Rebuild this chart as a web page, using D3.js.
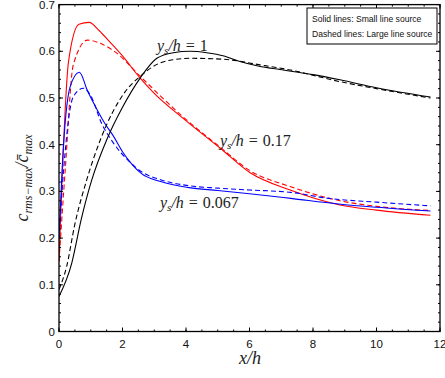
<!DOCTYPE html>
<html>
<head>
<meta charset="utf-8">
<script src="https://cdn.jsdelivr.net/npm/d3@7/dist/d3.min.js"></script>
<style>
  body { margin: 0; background: #fff; }
  text { font-family: "Liberation Sans", Arial, sans-serif; }
  .math { font-family: "Liberation Serif", "DejaVu Serif", serif; font-style: italic; fill: #222; }
</style>
</head>
<body>
<svg id="chart" width="445" height="378"></svg>
<script>
// data
var xTicks = [0, 2, 4, 6, 8, 10, 12];
var yTicks = [0, 0.1, 0.2, 0.3, 0.4, 0.5, 0.6, 0.7];
var legendLines = ["Solid lines: Small line source", "Dashed lines: Large line source"];

// y_s/h = 0.17 (red)
var redSmallX = [0, 0.3, 0.63, 0.95, 1.27, 1.6, 2.0, 2.55, 3.0, 3.9, 5.07, 6.02, 7.28, 8.85, 10, 11.7];
var redSmallY = [0.15, 0.578, 0.658, 0.662, 0.644, 0.62, 0.59, 0.543, 0.51, 0.457, 0.393, 0.34, 0.303, 0.271, 0.26, 0.249];
var redLargeX = [0, 0.2, 0.45, 0.9, 1.3, 1.82, 2.55, 3.9, 5.07, 6.0, 7.3, 8.85, 10, 11.7];
var redLargeY = [0.15, 0.35, 0.571, 0.624, 0.617, 0.596, 0.547, 0.46, 0.395, 0.345, 0.31, 0.28, 0.268, 0.259];

// y_s/h = 0.067 (blue)
var blueSmallX = [0, 0.1, 0.35, 0.64, 0.9, 1.2, 1.45, 1.7, 2.0, 2.3, 2.6, 3.2, 4.1, 5, 6, 7.3, 8.8, 10, 11.7];
var blueSmallY = [0.2, 0.35, 0.524, 0.555, 0.515, 0.475, 0.445, 0.42, 0.385, 0.358, 0.338, 0.321, 0.308, 0.302, 0.295, 0.285, 0.273, 0.266, 0.258];
var blueLargeX = [0, 0.15, 0.45, 0.77, 1.0, 1.34, 1.7, 2.2, 2.6, 3.2, 4.1, 5, 6, 7.3, 8.5, 10, 11.7];
var blueLargeY = [0.2, 0.35, 0.503, 0.521, 0.505, 0.446, 0.405, 0.365, 0.342, 0.325, 0.312, 0.307, 0.303, 0.298, 0.285, 0.277, 0.269];

// y_s/h = 1 (black)
var blackSmallX = [0, 0.4, 0.7, 1.03, 1.5, 2.0, 2.55, 3.08, 3.6, 4.13, 4.65, 5.2, 5.7, 6.3, 6.96, 8, 8.85, 10, 11.7];
var blackSmallY = [0.075, 0.146, 0.24, 0.324, 0.41, 0.48, 0.542, 0.585, 0.597, 0.6, 0.597, 0.59, 0.578, 0.568, 0.561, 0.55, 0.539, 0.522, 0.502];
var blackLargeX = [0, 0.24, 0.5, 0.87, 1.3, 2.08, 2.55, 3.18, 3.6, 4.13, 5.17, 6.33, 7.28, 8.85, 10, 11.7];
var blackLargeY = [0.09, 0.139, 0.23, 0.324, 0.41, 0.513, 0.546, 0.575, 0.582, 0.585, 0.583, 0.571, 0.56, 0.535, 0.52, 0.5];

var series = [
    { x: redSmallX, y: redSmallY, color: "#ff0000", dash: null },
    { x: redLargeX, y: redLargeY, color: "#ff0000", dash: "5,3" },
    { x: blueSmallX, y: blueSmallY, color: "#0000ff", dash: null },
    { x: blueLargeX, y: blueLargeY, color: "#0000ff", dash: "5,3" },
    { x: blackSmallX, y: blackSmallY, color: "#000000", dash: null },
    { x: blackLargeX, y: blackLargeY, color: "#000000", dash: "5,3" }
];

(function () {
    var svg = d3.select("#chart");
    var pLeft = 59, pRight = 440, pTop = 4.6, pBottom = 331.5;

    var x = d3.scaleLinear().domain([0, 12]).range([pLeft, pRight]);
    var y = d3.scaleLinear().domain([0, 0.7]).range([pBottom, pTop]);

    svg.append("clipPath").attr("id", "plotclip")
        .append("rect").attr("x", pLeft).attr("y", pTop).attr("width", pRight - pLeft).attr("height", pBottom - pTop);

    // curves
    var line = d3.line().curve(d3.curveMonotoneX)
        .x(function (d) { return x(d[0]); })
        .y(function (d) { return y(d[1]); });

    var plot = svg.append("g").attr("clip-path", "url(#plotclip)");
    series.forEach(function (s) {
        var pts = s.x.map(function (v, i) { return [v, s.y[i]]; });
        plot.append("path").attr("d", line(pts))
            .attr("fill", "none").attr("stroke", s.color).attr("stroke-width", 1.1)
            .attr("stroke-dasharray", s.dash);
    });

    // ticks pointing inward, mirrored on top and right (matlab box)
    var minorX = d3.range(0, 12.01, 0.5);
    var minorY = d3.range(0, 0.701, 0.02);

    var axes = svg.append("g").attr("stroke", "#000").attr("stroke-width", 1);
    [[minorX, 2], [xTicks, 4]].forEach(function (t) {
        t[0].forEach(function (v) {
            axes.append("line").attr("x1", x(v)).attr("x2", x(v)).attr("y1", pBottom).attr("y2", pBottom - t[1]);
            axes.append("line").attr("x1", x(v)).attr("x2", x(v)).attr("y1", pTop).attr("y2", pTop + t[1]);
        });
    });
    [[minorY, 2], [yTicks, 4]].forEach(function (t) {
        t[0].forEach(function (v) {
            axes.append("line").attr("y1", y(v)).attr("y2", y(v)).attr("x1", pLeft).attr("x2", pLeft + t[1]);
            axes.append("line").attr("y1", y(v)).attr("y2", y(v)).attr("x1", pRight).attr("x2", pRight - t[1]);
        });
    });
    svg.append("rect").attr("x", pLeft).attr("y", pTop).attr("width", pRight - pLeft).attr("height", pBottom - pTop)
        .attr("fill", "none").attr("stroke", "#000").attr("stroke-width", 1.3);

    // tick labels
    svg.append("g").selectAll("text").data(xTicks).enter().append("text")
        .attr("x", function (d) { return x(d); }).attr("y", pBottom + 16)
        .attr("text-anchor", "middle").attr("font-size", 11.5).attr("fill", "#111")
        .text(function (d) { return d; });
    svg.append("g").selectAll("text").data(yTicks).enter().append("text")
        .attr("x", pLeft - 4).attr("y", function (d) { return y(d) + 4; })
        .attr("text-anchor", "end").attr("font-size", 11.5).attr("fill", "#111")
        .text(function (d) { return d; });

    // axis titles
    svg.append("text").attr("class", "math").attr("x", 250).attr("y", 364)
        .attr("text-anchor", "middle").attr("font-size", 18).text("x/h");

    var yl = svg.append("text").attr("class", "math").attr("font-size", 18)
        .attr("text-anchor", "middle")
        .attr("transform", "translate(28,178) rotate(-90)");
    yl.append("tspan").text("c");
    yl.append("tspan").attr("font-size", 12).attr("dy", 4).text("rms−max");
    yl.append("tspan").attr("dy", -4).text("/");
    yl.append("tspan").text("c̄");
    yl.append("tspan").attr("font-size", 12).attr("dy", 4).text("max");

    // curve annotations
    function annot(px, py, val) {
        var t = svg.append("text").attr("class", "math").attr("font-size", 16)
            .attr("x", px).attr("y", py);
        t.append("tspan").text("y");
        t.append("tspan").attr("font-size", 11).attr("dy", 3).text("s");
        t.append("tspan").attr("dy", -3).text("/h = ");
        t.append("tspan").style("font-style", "normal").text(val);
    }
    annot(157, 51, "1");
    annot(220, 146, "0.17");
    annot(160, 208, "0.067");

    // legend box
    var lg = svg.append("g");
    lg.append("rect").attr("x", 307).attr("y", 8).attr("width", 130).attr("height", 36)
        .attr("fill", "#fff").attr("stroke", "#000").attr("stroke-width", 1);
    lg.selectAll("text").data(legendLines).enter().append("text")
        .attr("x", 312).attr("y", function (d, i) { return 22 + i * 15; })
        .attr("font-size", 8.6).attr("fill", "#111")
        .text(function (d) { return d; });
})();
</script>
</body>
</html>
